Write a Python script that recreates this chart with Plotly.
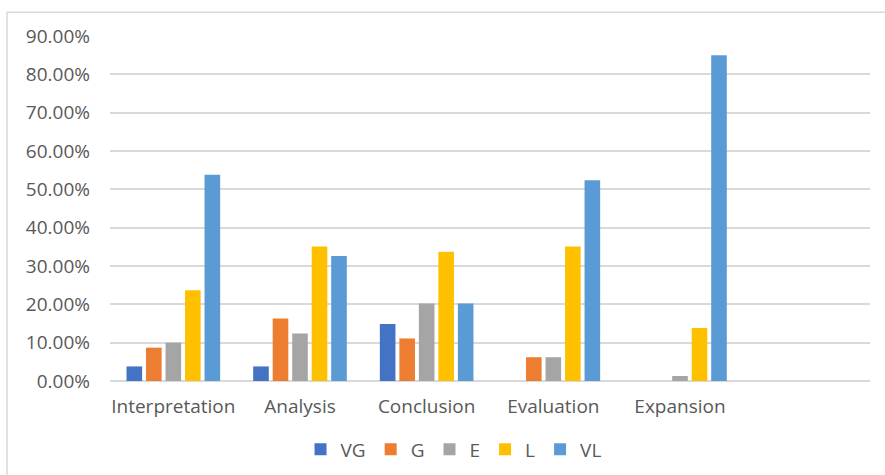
import plotly.graph_objects as go

categories = ["Interpretation", "Analysis", "Conclusion", "Evaluation", "Expansion", " "]
series_names = ["VG", "G", "E", "L", "VL"]
VG = [0.038, 0.038, 0.149, 0.0, 0.0, None]
G = [0.087, 0.163, 0.111, 0.062, 0.0, None]
E = [0.100, 0.124, 0.202, 0.062, 0.013, None]
L = [0.237, 0.351, 0.337, 0.351, 0.138, None]
VL = [0.538, 0.326, 0.202, 0.524, 0.850, None]
colors = ["#4472C4", "#ED7D31", "#A5A5A5", "#FFC000", "#5B9BD5"]
y_ticks = [0, 0.1, 0.2, 0.3, 0.4, 0.5, 0.6, 0.7, 0.8, 0.9]

font_family = "Open Sans"
grey = "#595959"

fig = go.Figure()
for name, vals, col in zip(series_names, [VG, G, E, L, VL], colors):
    fig.add_trace(go.Bar(x=categories, y=vals, name=name, marker=dict(color=col, line=dict(width=0))))

W, H = 885, 475
ml, mr, mt, mb = 110, 15, 35.7, 94.3
pw = W - ml - mr
ph = H - mt - mb

fig.update_layout(
    width=W, height=H,
    margin=dict(l=ml, r=mr, t=mt, b=mb, pad=0, autoexpand=False),
    paper_bgcolor="white", plot_bgcolor="white",
    barmode="group", bargap=0.23, bargroupgap=0.2,
    font=dict(family=font_family, size=19, color=grey),
    showlegend=True,
    legend=dict(orientation="h", x=0.452, xanchor="center", y=-(449 - 380.7) / ph, yanchor="middle",
                font=dict(size=19, color=grey), itemwidth=30, traceorder="normal"),
    xaxis=dict(type="category", categoryorder="array", categoryarray=categories,
               showgrid=False, showline=False, zeroline=False, ticks="",
               ticklabelstandoff=12, tickfont=dict(size=19, color=grey)),
    yaxis=dict(range=[0, 0.9], tickvals=y_ticks, tickformat=".2%", showgrid=True,
               gridcolor="#d9d9d9", gridwidth=1.5, zeroline=True, zerolinecolor="#d9d9d9",
               zerolinewidth=1.7, showline=False, ticks="", ticklabelstandoff=19,
               tickfont=dict(size=19, color=grey)),
    shapes=[dict(type="rect", xref="paper", yref="paper",
                 x0=(7 - ml) / pw, x1=(W + 10 - ml) / pw,
                 y0=-(H + 10 - (mt + ph)) / ph, y1=1 + (mt - 12) / ph,
                 line=dict(color="#d9d9d9", width=1.5), fillcolor="rgba(0,0,0,0)", layer="below")],
)

fig.write_html("out.html")
